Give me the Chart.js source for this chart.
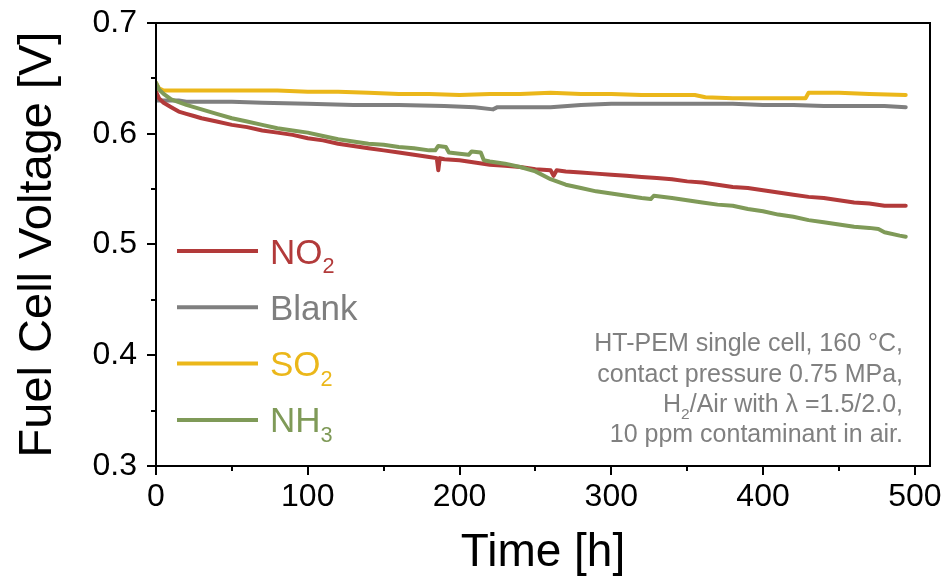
<!DOCTYPE html>
<html>
<head>
<meta charset="utf-8">
<script src="https://cdn.jsdelivr.net/npm/chart.js@4.4.1/dist/chart.umd.min.js"></script>
<style>
  html, body { margin: 0; padding: 0; background: #fff; }
  #wrap { width: 949px; height: 580px; }
</style>
</head>
<body>
<div id="wrap"><canvas id="c" width="949" height="580"></canvas></div>
<script>
// ---------- data ----------
const seriesNames = ['NO_2', 'Blank', 'SO_2', 'NH_3'];
const seriesColors = ['#B23A3A', '#7F7F7F', '#EBB71A', '#7F9A58'];

const tNO2 = [0, 2, 5, 10, 15, 20, 25, 30, 40, 50,
              60, 70, 80, 90, 100, 110, 120, 130, 140, 150,
              160, 170, 180, 185, 186, 187, 190, 200, 210, 220,
              230, 240, 250, 260, 262, 264, 270, 280, 290, 300,
              310, 320, 330, 340, 350, 360, 370, 380, 390, 400,
              410, 420, 430, 440, 450, 460, 470, 480, 490, 494];
const vNO2 = [0.638, 0.632, 0.628, 0.624, 0.620, 0.618, 0.616, 0.614, 0.611, 0.608,
              0.606, 0.603, 0.601, 0.599, 0.596, 0.594, 0.591, 0.589, 0.587, 0.585,
              0.583, 0.581, 0.579, 0.578, 0.567, 0.578, 0.577, 0.576, 0.574, 0.572,
              0.571, 0.570, 0.568, 0.567, 0.562, 0.567, 0.566, 0.565, 0.564, 0.563,
              0.562, 0.561, 0.560, 0.559, 0.557, 0.556, 0.554, 0.552, 0.551, 0.549,
              0.547, 0.545, 0.543, 0.542, 0.540, 0.538, 0.537, 0.535, 0.535, 0.535];

const tBlank = [0, 5, 15, 20, 30, 50, 70, 100, 130, 160,
                190, 210, 222, 225, 240, 260, 280, 300, 330, 360,
                380, 400, 420, 440, 460, 480, 494];
const vBlank = [0.630, 0.630, 0.630, 0.629, 0.629, 0.629, 0.628, 0.627, 0.626, 0.626,
                0.625, 0.624, 0.622, 0.624, 0.624, 0.624, 0.626, 0.627, 0.627, 0.627,
                0.627, 0.626, 0.626, 0.625, 0.625, 0.625, 0.624];

const tSO2 = [0, 2, 5, 20, 40, 60, 80, 100, 120, 140,
              160, 180, 200, 220, 240, 260, 280, 300, 320, 340,
              355, 362, 380, 400, 428, 430, 450, 470, 494];
const vSO2 = [0.646, 0.641, 0.639, 0.639, 0.639, 0.639, 0.639, 0.638, 0.638, 0.637,
              0.636, 0.636, 0.635, 0.636, 0.636, 0.637, 0.636, 0.636, 0.635, 0.635,
              0.635, 0.633, 0.632, 0.632, 0.632, 0.637, 0.637, 0.636, 0.635];

const tNH3 = [0, 2, 5, 10, 20, 30, 40, 50, 60, 70,
              80, 90, 100, 110, 120, 130, 140, 150, 160, 170,
              180, 184, 186, 191, 193, 200, 206, 208, 214, 216,
              220, 230, 240, 250, 260, 270, 280, 290, 300, 310,
              320, 326, 328, 340, 350, 360, 370, 380, 390, 400,
              410, 420, 430, 440, 450, 460, 470, 476, 480, 490, 494];
const vNH3 = [0.646, 0.640, 0.636, 0.631, 0.626, 0.622, 0.618, 0.614, 0.611, 0.608,
              0.605, 0.603, 0.601, 0.598, 0.595, 0.593, 0.591, 0.590, 0.588, 0.587,
              0.585, 0.585, 0.589, 0.588, 0.583, 0.582, 0.581, 0.584, 0.583, 0.576,
              0.575, 0.573, 0.570, 0.566, 0.559, 0.554, 0.551, 0.548, 0.546, 0.544,
              0.542, 0.541, 0.544, 0.542, 0.540, 0.538, 0.536, 0.535, 0.532, 0.530,
              0.527, 0.525, 0.522, 0.520, 0.518, 0.516, 0.515, 0.514, 0.511, 0.508, 0.507];

const xTicks = [0, 100, 200, 300, 400, 500];
const xMinorTicks = [50, 150, 250, 350, 450];
const yTicks = [0.3, 0.4, 0.5, 0.6, 0.7];
const yMinorTicks = [0.35, 0.45, 0.55, 0.65];

const noteLines = ['HT-PEM single cell, 160 °C,',
                   'contact pressure 0.75 MPa,',
                   'H_2/Air with λ =1.5/2.0,',
                   '10 ppm contaminant in air.'];

// ---------- helpers ----------
const FONT = "'Liberation Sans', Arial, sans-serif";
function pairs(t, v) { return t.map((x, i) => ({ x: x, y: v[i] })); }
function parseRich(s) {
  const parts = [];
  const re = /_(\d)/g;
  let last = 0, m;
  while ((m = re.exec(s)) !== null) {
    if (m.index > last) parts.push({ t: s.slice(last, m.index), sub: false });
    parts.push({ t: m[1], sub: true });
    last = m.index + m[0].length;
  }
  if (last < s.length) parts.push({ t: s.slice(last), sub: false });
  return parts;
}
function drawRich(ctx, s, x, y, size, color, align) {
  const parts = parseRich(s);
  const subSize = size * 0.62;
  let total = 0;
  parts.forEach(p => {
    ctx.font = (p.sub ? subSize : size) + 'px ' + FONT;
    p.w = ctx.measureText(p.t).width;
    total += p.w;
  });
  let cx = align === 'right' ? x - total : x;
  ctx.fillStyle = color;
  ctx.textAlign = 'left';
  ctx.textBaseline = 'alphabetic';
  parts.forEach(p => {
    ctx.font = (p.sub ? subSize : size) + 'px ' + FONT;
    ctx.fillText(p.t, cx, y + (p.sub ? size * 0.27 : 0));
    cx += p.w;
  });
}

const decor = {
  id: 'decor',
  afterDraw(chart) {
    const ctx = chart.ctx;
    const a = chart.chartArea;
    const xs = chart.scales.x, ys = chart.scales.y;
    ctx.save();
    ctx.strokeStyle = '#000';
    ctx.lineWidth = 2;
    ctx.lineCap = 'butt';
    // frame
    ctx.strokeRect(a.left, a.top, a.right - a.left, a.bottom - a.top);
    // ticks
    ctx.beginPath();
    xTicks.forEach(v => { const px = Math.round(xs.getPixelForValue(v)); ctx.moveTo(px, a.bottom); ctx.lineTo(px, a.bottom + 9); });
    xMinorTicks.forEach(v => { const px = Math.round(xs.getPixelForValue(v)); ctx.moveTo(px, a.bottom); ctx.lineTo(px, a.bottom + 5); });
    yTicks.forEach(v => { const py = Math.round(ys.getPixelForValue(v)); ctx.moveTo(a.left, py); ctx.lineTo(a.left - 9, py); });
    yMinorTicks.forEach(v => { const py = Math.round(ys.getPixelForValue(v)); ctx.moveTo(a.left, py); ctx.lineTo(a.left - 5, py); });
    ctx.stroke();
    // legend
    const lx0 = a.left + 21, lx1 = a.left + 102, tx = a.left + 114;
    const ly0 = 251, dy = 56.3;
    seriesNames.forEach((name, i) => {
      const y = ly0 + i * dy;
      ctx.strokeStyle = seriesColors[i];
      ctx.lineWidth = 4;
      ctx.beginPath(); ctx.moveTo(lx0, y); ctx.lineTo(lx1, y); ctx.stroke();
      drawRich(ctx, name, tx, y + 12.5, 35, seriesColors[i], 'left');
    });
    // annotation
    const nx = 903;
    const nb = [351, 382, 412, 442];
    noteLines.forEach((s, i) => drawRich(ctx, s, nx, nb[i], 25, '#808080', 'right'));
    ctx.restore();
  }
};

const datasets = [
  { label: seriesNames[0], data: pairs(tNO2, vNO2), borderColor: seriesColors[0], order: 2 },
  { label: seriesNames[1], data: pairs(tBlank, vBlank), borderColor: seriesColors[1], order: 2 },
  { label: seriesNames[2], data: pairs(tSO2, vSO2), borderColor: seriesColors[2], order: 2 },
  { label: seriesNames[3], data: pairs(tNH3, vNH3), borderColor: seriesColors[3], order: 1 }
].map(d => Object.assign(d, { borderWidth: 4, pointRadius: 0, tension: 0, fill: false, borderJoinStyle: 'round', borderCapStyle: 'round' }));

new Chart(document.getElementById('c'), {
  type: 'line',
  data: { datasets: datasets },
  options: {
    responsive: false,
    animation: false,
    devicePixelRatio: 1,
    layout: { padding: { top: 23, right: 19, left: 0, bottom: 0 } },
    plugins: { legend: { display: false }, tooltip: { enabled: false } },
    scales: {
      x: {
        type: 'linear', position: 'bottom', min: 0, max: 510,
        afterBuildTicks: s => { s.ticks = xTicks.map(v => ({ value: v })); },
        afterFit: s => { s.height = 114; s.paddingLeft = 0; s.paddingRight = 0; s.paddingTop = 0; s.paddingBottom = 0; },
        grid: { display: false, drawTicks: false },
        border: { display: false },
        ticks: { autoSkip: false, maxRotation: 0, padding: 12, color: '#000',
                 font: { family: FONT, size: 32 } },
        title: { display: true, text: 'Time [h]', color: '#000', font: { family: FONT, size: 46, lineHeight: 1.1 },
                 padding: { top: 0, bottom: 1 } }
      },
      y: {
        type: 'linear', position: 'left', min: 0.3, max: 0.7,
        afterBuildTicks: s => { s.ticks = yTicks.map(v => ({ value: v })); },
        afterFit: s => { s.width = 156; s.paddingLeft = 0; s.paddingRight = 0; s.paddingTop = 0; s.paddingBottom = 0; },
        grid: { display: false, drawTicks: false },
        border: { display: false },
        ticks: { autoSkip: false, padding: 19, color: '#000', font: { family: FONT, size: 32 },
                 callback: v => Number(v).toFixed(1) },
        title: { display: true, text: 'Fuel Cell Voltage [V]', color: '#000', font: { family: FONT, size: 47 },
                 padding: { top: 10, bottom: 0 } }
      }
    }
  },
  plugins: [decor]
});
</script>
</body>
</html>
